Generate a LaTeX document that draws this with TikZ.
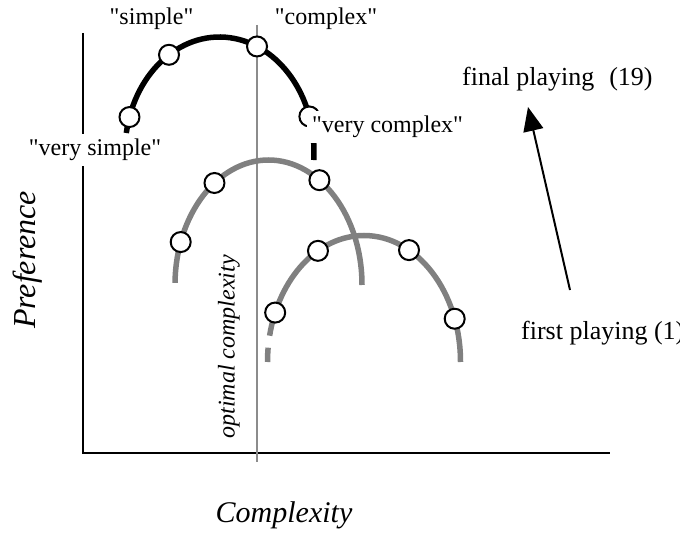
\documentclass[tikz,border=0pt]{standalone}
\usepackage{fontspec}
\setmainfont{Liberation Serif}
\usetikzlibrary{calc,arrows.meta}
\definecolor{curvegray}{RGB}{128,128,128}
\definecolor{optline}{RGB}{140,140,140}
\newcommand{\quoted}[1]{\textquotedbl#1\textquotedbl}
\begin{document}
\begin{tikzpicture}[x=1pt,y=1pt,
  axisline/.style={line width=2.8pt},
  optimum/.style={optline, line width=2pt},
  blackcurve/.style={line width=5.5pt},
  graycurve/.style={curvegray, line width=5.5pt},
  rating/.style={circle, draw, fill=white, line width=2pt, minimum size=20pt, inner sep=0pt},
  lbl/.style={font=\fontsize{24}{28}\selectfont, inner sep=0pt},
  playlbl/.style={font=\fontsize{26}{30}\selectfont, inner sep=0pt, anchor=west},
  boxlbl/.style={lbl, fill=white, inner sep=5pt},
  axislbl/.style={font=\fontsize{30}{34}\selectfont\itshape, inner sep=0pt},
  trend/.style={line width=2pt, -{Triangle[length=24pt,width=20pt]}}
]
\useasboundingbox (0,0) rectangle (680,-537);

% axes
\coordinate (ytop) at (83,-33);
\coordinate (origin) at (83,-453);
\coordinate (xend) at (610,-453);
\draw[axisline] (ytop) -- (origin) -- (xend);

% optimal complexity marker
\coordinate (opttop) at (257,-25);
\coordinate (optbot) at (257,-462);
\draw[optimum] (opttop) -- (optbot);
\node[lbl, rotate=90, font=\fontsize{24}{28}\selectfont\itshape] (optlbl) at (229,-347) {optimal complexity};

% ellipse centres of the three preference curves
\coordinate (cfirst) at (364,-362);
\coordinate (cmid) at (268.5,-285);
\coordinate (cfinal) at (219.5,-152);

% first playing curve (gray, lower right)
\draw[graycurve] (cfirst) ++(0:96.5 and 126.5) arc[start angle=0, end angle=168, x radius=96.5, y radius=126.5];
\draw[graycurve] (cfirst) ++(173.5:96.5 and 126.5) arc[start angle=173.5, end angle=180, x radius=96.5, y radius=126.5];

% intermediate curve (gray)
\draw[graycurve] (cmid) ++(0:93.5 and 125) arc[start angle=0, end angle=179, x radius=93.5, y radius=125];

% final playing curve (black)
\draw[blackcurve] (cfinal) ++(170.5:94.5 and 115) arc[start angle=170.5, end angle=-4, x radius=94.5, y radius=115];

% rating points
\node[rating] (f1) at ($(cfirst)+(157:96.5 and 126.5)$) {};
\node[rating] (f2) at ($(cfirst)+(118.5:96.5 and 126.5)$) {};
\node[rating] (f3) at ($(cfirst)+(62.2:96.5 and 126.5)$) {};
\node[rating] (f4) at ($(cfirst)+(20:96.5 and 126.5)$) {};

\node[rating] (m1) at ($(cmid)+(159.9:93.5 and 125)$) {};
\node[rating] (m2) at ($(cmid)+(125.3:93.5 and 125)$) {};
\node[rating] (m3) at ($(cmid)+(57:93.5 and 125)$) {};

\node[rating] (l1) at ($(cfinal)+(162.3:94.5 and 115)$) {};
\node[rating] (l2) at ($(cfinal)+(122.3:94.5 and 115)$) {};
\node[rating] (l3) at ($(cfinal)+(66.6:94.5 and 115)$) {};
\node[rating] (l4) at ($(cfinal)+(18:94.5 and 115)$) {};

% point labels
\node[boxlbl] (vcomplex) at (387.5,-127) {\quoted{very complex}};
\node[boxlbl] (vsimple) at (95,-150) {\quoted{very simple}};
\node[lbl] (simple) at (151.5,-19) {\quoted{simple}};
\node[lbl] (complex) at (326,-19) {\quoted{complex}};

% axis titles
\node[axislbl] (xlbl) at (284,-515) {Complexity};
\node[axislbl, rotate=90, font=\fontsize{32}{36}\selectfont\itshape] (ylbl) at (28,-260) {Preference};

% playing labels and trend arrow
\node[playlbl] (finalp) at (462,-79) {final playing\hspace{15pt}(19)};
\node[playlbl] (firstp) at (521,-333) {first playing (1)};
\coordinate (trendtail) at (570,-290);
\coordinate (trendtip) at (528,-107);
\draw[trend] (trendtail) -- (trendtip);
\end{tikzpicture}
\end{document}
